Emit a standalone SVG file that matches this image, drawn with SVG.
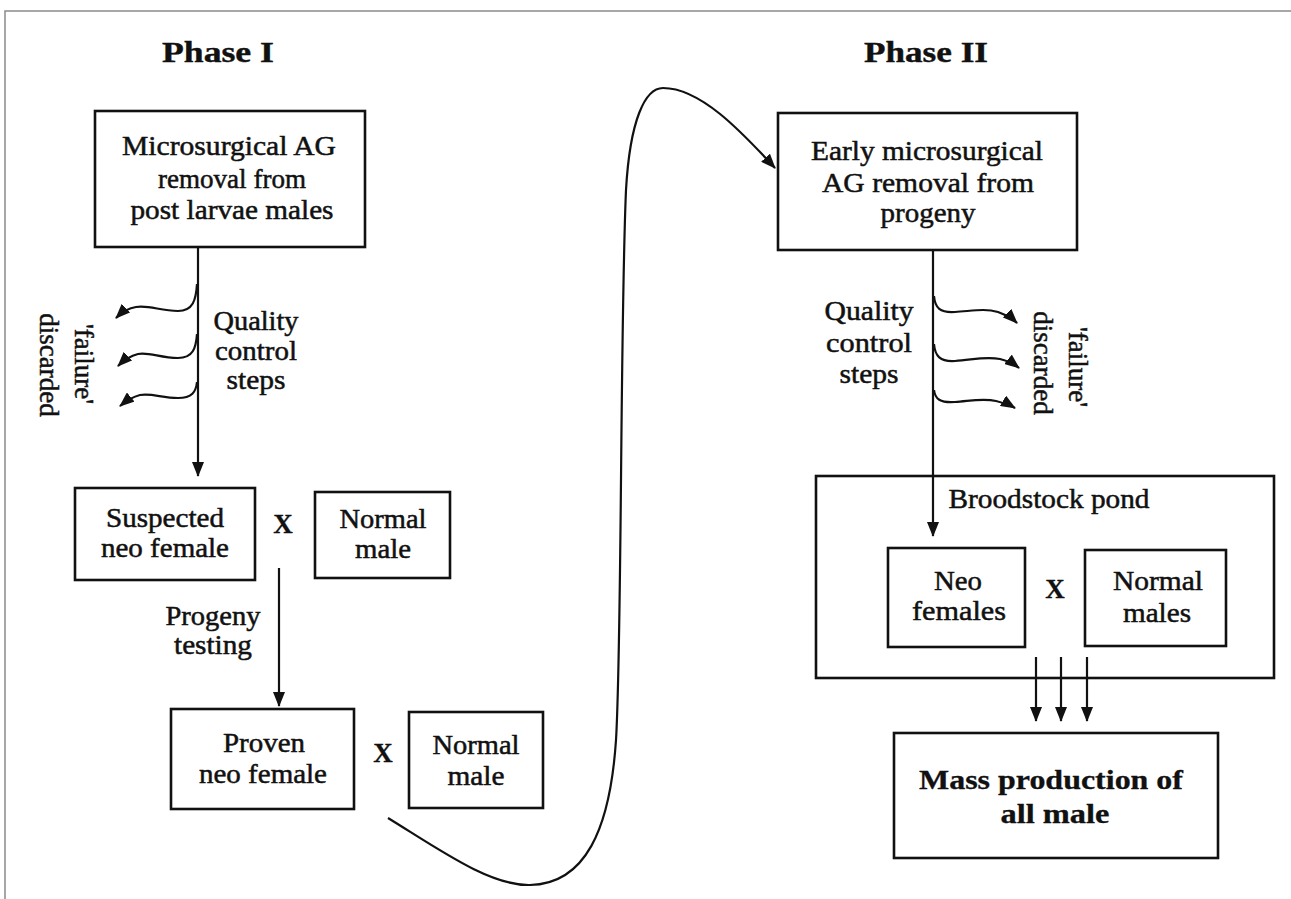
<svg xmlns="http://www.w3.org/2000/svg" width="1291" height="899" viewBox="0 0 1291 899">
<style>
.bg{fill:#fff}
.frame{stroke:#8a8a8a;stroke-width:1.5;fill:none}
.box{fill:none;stroke:#111;stroke-width:2.6}
.ln{fill:none;stroke:#111;stroke-width:2.2}
.t{font-family:"Liberation Serif","Times New Roman",serif;font-size:27px;fill:#111;stroke:#111;stroke-width:0.5;text-anchor:middle}
.b{font-weight:bold;stroke-width:0.3}
.title{font-family:"Liberation Serif","Times New Roman",serif;font-size:30px;font-weight:bold;fill:#111;stroke:#111;stroke-width:0.4;text-anchor:middle}
</style>
<defs>
<marker id="ah" markerUnits="userSpaceOnUse" markerWidth="15" markerHeight="12" refX="14" refY="6" orient="auto">
<path d="M0,0 L15,6 L0,12 z" fill="#111"/>
</marker>
</defs>
<rect class="bg" x="0" y="0" width="1291" height="899"/>
<path class="frame" d="M5,899 L5,11 L1291,11"/>

<text class="title" x="218" y="62" textLength="112" lengthAdjust="spacingAndGlyphs">Phase I</text>
<text class="title" x="926" y="62" textLength="124" lengthAdjust="spacingAndGlyphs">Phase II</text>

<g id="connectors">
<line class="ln" x1="198" y1="248" x2="198" y2="476" marker-end="url(#ah)"/>
<path class="ln" d="M197,284 C196,300 193,311 178,311 C160,311 150,305 136,307 C128,308 122,312 116,318" marker-end="url(#ah)"/>
<path class="ln" d="M197,334 C196,348 193,358 178,358 C160,358 150,352 138,354 C130,356 124,360 118,366" marker-end="url(#ah)"/>
<path class="ln" d="M197,382 C196,392 192,398 178,398 C162,398 152,393 140,395 C132,397 126,401 120,406" marker-end="url(#ah)"/>
<line class="ln" x1="279" y1="568" x2="279" y2="706" marker-end="url(#ah)"/>
<path class="ln" d="M388,818 C440,850 490,886 530,885 C585,884 610,830 616,740 C622,640 620,330 626,190 C630,120 645,88 663,88 C700,88 740,130 775,168" marker-end="url(#ah)"/>
<line class="ln" x1="933" y1="250" x2="933" y2="536" marker-end="url(#ah)"/>
<path class="ln" d="M934,296 C935,308 940,313 955,312 C972,311 985,308 998,312 C1006,315 1012,318 1017,323" marker-end="url(#ah)"/>
<path class="ln" d="M934,344 C935,356 940,362 955,361 C972,360 985,356 1000,359 C1008,361 1014,364 1019,368" marker-end="url(#ah)"/>
<path class="ln" d="M934,390 C935,399 940,403 955,402 C970,401 983,398 996,401 C1004,403 1010,405 1015,408" marker-end="url(#ah)"/>
<line class="ln" x1="1036" y1="657" x2="1036" y2="721" marker-end="url(#ah)"/>
<line class="ln" x1="1061" y1="657" x2="1061" y2="721" marker-end="url(#ah)"/>
<line class="ln" x1="1087" y1="657" x2="1087" y2="721" marker-end="url(#ah)"/>
</g>

<g id="labels">
<text class="t" x="256" y="330" textLength="85" lengthAdjust="spacingAndGlyphs">Quality</text>
<text class="t" x="256" y="360" textLength="82" lengthAdjust="spacingAndGlyphs">control</text>
<text class="t" x="256" y="389" textLength="59" lengthAdjust="spacingAndGlyphs">steps</text>
<text class="t" transform="translate(75,364) rotate(90)" x="0" y="0">'failure'</text>
<text class="t" transform="translate(40,365) rotate(90)" x="0" y="0">discarded</text>
<text class="t" x="869" y="320" textLength="89" lengthAdjust="spacingAndGlyphs">Quality</text>
<text class="t" x="869" y="352" textLength="86" lengthAdjust="spacingAndGlyphs">control</text>
<text class="t" x="869" y="383" textLength="59" lengthAdjust="spacingAndGlyphs">steps</text>
<text class="t" transform="translate(1069,367) rotate(90)" x="0" y="0">'failure'</text>
<text class="t" transform="translate(1034,363) rotate(90)" x="0" y="0">discarded</text>
<text class="t" x="213" y="625" textLength="95" lengthAdjust="spacingAndGlyphs">Progeny</text>
<text class="t" x="213" y="654" textLength="78" lengthAdjust="spacingAndGlyphs">testing</text>
<text class="t b" x="283" y="533">X</text>
<text class="t b" x="383" y="762">X</text>
<text class="t b" x="1055" y="598">X</text>
</g>

<g id="n1">
<rect class="box" x="95" y="111" width="270" height="136"/>
<text class="t" x="229" y="155" textLength="214" lengthAdjust="spacingAndGlyphs">Microsurgical AG</text>
<text class="t" x="232" y="188" textLength="148" lengthAdjust="spacingAndGlyphs">removal from</text>
<text class="t" x="232" y="219" textLength="203" lengthAdjust="spacingAndGlyphs">post larvae males</text>
</g>

<g id="n2">
<rect class="box" x="75" y="488" width="180" height="92"/>
<text class="t" x="165" y="527" textLength="118" lengthAdjust="spacingAndGlyphs">Suspected</text>
<text class="t" x="165" y="557" textLength="128" lengthAdjust="spacingAndGlyphs">neo female</text>
</g>

<g id="n3">
<rect class="box" x="315" y="492" width="135" height="86"/>
<text class="t" x="383" y="528" textLength="87" lengthAdjust="spacingAndGlyphs">Normal</text>
<text class="t" x="383" y="558" textLength="56" lengthAdjust="spacingAndGlyphs">male</text>
</g>

<g id="n4">
<rect class="box" x="171" y="709" width="183" height="100"/>
<text class="t" x="264" y="752" textLength="82" lengthAdjust="spacingAndGlyphs">Proven</text>
<text class="t" x="263" y="783" textLength="128" lengthAdjust="spacingAndGlyphs">neo female</text>
</g>

<g id="n5">
<rect class="box" x="409" y="712" width="134" height="96"/>
<text class="t" x="476" y="754" textLength="87" lengthAdjust="spacingAndGlyphs">Normal</text>
<text class="t" x="476" y="785" textLength="57" lengthAdjust="spacingAndGlyphs">male</text>
</g>

<g id="n6">
<rect class="box" x="778" y="113" width="299" height="137"/>
<text class="t" x="927" y="160" textLength="232" lengthAdjust="spacingAndGlyphs">Early microsurgical</text>
<text class="t" x="928" y="192" textLength="212" lengthAdjust="spacingAndGlyphs">AG removal from</text>
<text class="t" x="928" y="222" textLength="95" lengthAdjust="spacingAndGlyphs">progeny</text>
</g>

<g id="n7">
<rect class="box" x="816" y="476" width="458" height="202"/>
<text class="t" x="1049" y="508" textLength="201" lengthAdjust="spacingAndGlyphs">Broodstock pond</text>
</g>

<g id="n8">
<rect class="box" x="888" y="548" width="137" height="99"/>
<text class="t" x="958" y="590" textLength="48" lengthAdjust="spacingAndGlyphs">Neo</text>
<text class="t" x="959" y="620" textLength="94" lengthAdjust="spacingAndGlyphs">females</text>
</g>

<g id="n9">
<rect class="box" x="1085" y="550" width="141" height="96"/>
<text class="t" x="1158" y="590" textLength="90" lengthAdjust="spacingAndGlyphs">Normal</text>
<text class="t" x="1157" y="622" textLength="68" lengthAdjust="spacingAndGlyphs">males</text>
</g>

<g id="n10">
<rect class="box" x="894" y="733" width="324" height="125"/>
<text class="t b" x="1051" y="789" textLength="264" lengthAdjust="spacingAndGlyphs">Mass production of</text>
<text class="t b" x="1055" y="823" textLength="109" lengthAdjust="spacingAndGlyphs">all male</text>
</g>
</svg>
